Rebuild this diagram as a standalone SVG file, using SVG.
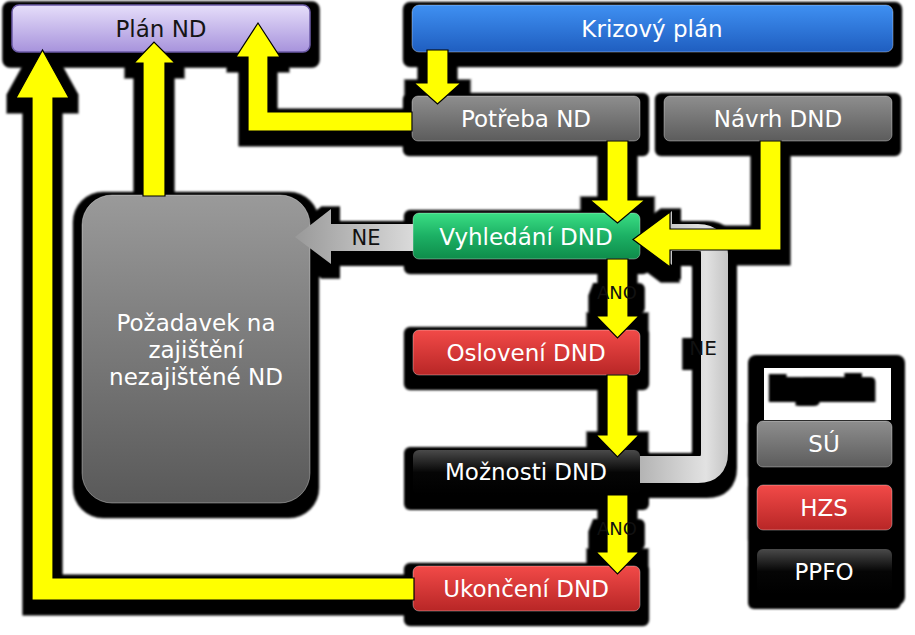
<svg xmlns="http://www.w3.org/2000/svg" width="915" height="635" viewBox="0 0 915 635">
<defs>
<filter id="shadow" filterUnits="userSpaceOnUse" x="-50" y="-50" width="1015" height="735">
<feMorphology in="SourceAlpha" operator="dilate" radius="9" result="d"/>
<feOffset in="d" dx="0" dy="6" result="o"/>
<feGaussianBlur in="o" stdDeviation="1.2"/>
</filter>
<filter id="blob" filterUnits="userSpaceOnUse" x="700" y="330" width="215" height="120">
<feMorphology in="SourceAlpha" operator="dilate" radius="7" result="d"/>
<feOffset in="d" dx="0" dy="2" result="o"/>
<feGaussianBlur in="o" stdDeviation="0.8" result="b"/>
<feMerge><feMergeNode in="b"/><feMergeNode in="SourceGraphic"/></feMerge>
</filter>
<linearGradient id="gPurple" x1="0" y1="0" x2="0" y2="1"><stop offset="0" stop-color="#e6defa"/><stop offset="1" stop-color="#a793dc"/></linearGradient>
<linearGradient id="gBlue" x1="0" y1="0" x2="0" y2="1"><stop offset="0" stop-color="#3f90f2"/><stop offset="1" stop-color="#1f5ec0"/></linearGradient>
<linearGradient id="gGray" x1="0" y1="0" x2="0" y2="1"><stop offset="0" stop-color="#8e8e8e"/><stop offset="1" stop-color="#5c5c5c"/></linearGradient>
<linearGradient id="gGreen" x1="0" y1="0" x2="0" y2="1"><stop offset="0" stop-color="#3ade84"/><stop offset="0.5" stop-color="#1cb064"/><stop offset="1" stop-color="#0e8c4a"/></linearGradient>
<linearGradient id="gRed" x1="0" y1="0" x2="0" y2="1"><stop offset="0" stop-color="#f24a48"/><stop offset="1" stop-color="#b82626"/></linearGradient>
<linearGradient id="gBlack" x1="0" y1="0" x2="0" y2="1"><stop offset="0" stop-color="#4a4a4a"/><stop offset="0.5" stop-color="#050505"/><stop offset="1" stop-color="#000"/></linearGradient>
<linearGradient id="gBig" x1="0" y1="0" x2="0" y2="1"><stop offset="0" stop-color="#9a9a9a"/><stop offset="1" stop-color="#595959"/></linearGradient>
<linearGradient id="gArrowGray" x1="0" y1="0" x2="1" y2="0"><stop offset="0" stop-color="#999"/><stop offset="1" stop-color="#dadada"/></linearGradient>
<linearGradient id="gLoop" gradientUnits="userSpaceOnUse" x1="640" y1="0" x2="728" y2="0"><stop offset="0" stop-color="#b4b4b4"/><stop offset="0.75" stop-color="#e2e2e2"/><stop offset="1" stop-color="#c4c4c4"/></linearGradient>
</defs>
<style>
.t{font-family:"DejaVu Sans","Liberation Sans",sans-serif;font-size:23px;text-anchor:middle;fill:#fff}
.dark{fill:#151515}
.lbl{font-family:"DejaVu Sans","Liberation Sans",sans-serif;font-size:20px;text-anchor:middle;fill:#111}
.ano{font-size:18px}
.box{stroke:rgba(255,255,255,0.35);stroke-width:1}
.yl{fill:#ffff00;stroke:#000;stroke-width:1.2;stroke-linejoin:miter}
</style>
<rect width="915" height="635" fill="#fff"/>

<g id="shadows" filter="url(#shadow)">
<use href="#nodes"/>
<use href="#connectors"/>
</g>

<g id="nodes">
<g id="plan-nd"><rect x="12" y="5" width="298" height="47" rx="7" fill="url(#gPurple)" stroke="#6b5aa6" stroke-width="1.5"/><text class="t dark" x="161" y="37">Plán ND</text></g>
<g id="krizovy-plan"><rect x="412" y="5" width="481" height="47" rx="7" fill="url(#gBlue)" class="box"/><text class="t" x="652" y="37">Krizový plán</text></g>
<g id="potreba-nd"><rect x="412" y="96" width="228" height="45" rx="6" fill="url(#gGray)" class="box"/><text class="t" x="526" y="127">Potřeba ND</text></g>
<g id="navrh-dnd"><rect x="664" y="96" width="228" height="45" rx="6" fill="url(#gGray)" class="box"/><text class="t" x="778" y="127">Návrh DND</text></g>
<g id="pozadavek"><rect x="82" y="195" width="228" height="308" rx="30" fill="url(#gBig)" class="box"/><text class="t" x="196" y="331">Požadavek na</text><text class="t" x="196" y="358">zajištění</text><text class="t" x="196" y="385">nezajištěné ND</text></g>
<g id="vyhledani-dnd"><rect x="413" y="213" width="227" height="46" rx="6" fill="url(#gGreen)" class="box"/><text class="t" x="526" y="245">Vyhledání DND</text></g>
<g id="osloveni-dnd"><rect x="413" y="330" width="227" height="45" rx="6" fill="url(#gRed)" class="box"/><text class="t" x="526" y="361">Oslovení DND</text></g>
<g id="moznosti-dnd"><rect x="413" y="450" width="227" height="45" rx="6" fill="url(#gBlack)"/><text class="t" x="526" y="480">Možnosti DND</text></g>
<g id="ukonceni-dnd"><rect x="413" y="566" width="227" height="45" rx="6" fill="url(#gRed)" class="box"/><text class="t" x="526" y="597">Ukončení DND</text></g>
<g id="legenda">
<rect x="757" y="358" width="139" height="232" rx="8" fill="#000"/>
<rect x="764" y="368" width="127" height="52" fill="#fff"/>
<text x="822" y="393" filter="url(#blob)" style="font-family:'DejaVu Sans','Liberation Sans',sans-serif;font-size:20px;font-weight:bold;text-anchor:middle;fill:#000">Legenda</text>
<g id="leg-su"><rect x="757" y="421" width="135" height="46" rx="6" fill="url(#gGray)" class="box"/><text class="t" x="824" y="452">SÚ</text></g>
<g id="leg-hzs"><rect x="757" y="485" width="135" height="45" rx="6" fill="url(#gRed)" class="box"/><text class="t" x="824" y="516">HZS</text></g>
<g id="leg-ppfo"><rect x="757" y="549" width="135" height="45" rx="6" fill="url(#gBlack)"/><text class="t" x="824" y="580">PPFO</text></g>
</g>
</g>

<g id="connectors">
<g id="c-moznosti-vyhledani-ne">
<path d="M640,469.5 H698 Q714.5,469.5 714.5,453 V254 Q714.5,237.5 698,237.5 H670" fill="none" stroke="url(#gLoop)" stroke-width="27"/>
<path d="M672,211 L640,238 L672,265 Z" fill="#c8c8c8"/>
<text class="lbl" x="703" y="355">NE</text>
</g>
<g id="c-vyhledani-pozadavek-ne"><path d="M413,224 H331 V209 L295,237 L331,264 V251 H413 Z" fill="url(#gArrowGray)"/><text class="lbl" x="366" y="245" style="font-size:21px">NE</text></g>
<path id="c-krizovy-potreba" class="yl" d="M427,50 H448 V83 H461 L437.5,104 L414,83 H427 Z"/>
<path id="c-potreba-plan" class="yl" d="M412,112 H268 V57 H280 L258,23 L236,57 H248 V131 H412 Z"/>
<path id="c-pozadavek-plan" class="yl" d="M143,196 V63 H134 L154,42 L175,63 H165 V196 Z"/>
<path id="c-ukonceni-plan" class="yl" d="M414,578 H53 V98 H69 L42.5,50 L16,98 H32 V600 H414 Z"/>
<path id="c-potreba-vyhledani" class="yl" d="M607,141 H628 V200 H645 L617.5,223 L590,200 H607 Z"/>
<path id="c-navrh-vyhledani" class="yl" d="M760,141 H781 V250 H670 V267 L633,239.5 L670,212 V229 H760 Z"/>
<g id="c-vyhledani-osloveni"><path class="yl" d="M607,259 V316 H596 L617.5,338 L639,316 H628 V259 Z"/><text class="lbl ano" x="617" y="299">ANO</text></g>
<path id="c-osloveni-moznosti" class="yl" d="M607,375 V435 H596 L617.5,457 L639,435 H628 V375 Z"/>
<g id="c-moznosti-ukonceni"><path class="yl" d="M607,495 V552 H596 L617.5,574 L639,552 H628 V495 Z"/><text class="lbl ano" x="617" y="535">ANO</text></g>
</g>
</svg>
